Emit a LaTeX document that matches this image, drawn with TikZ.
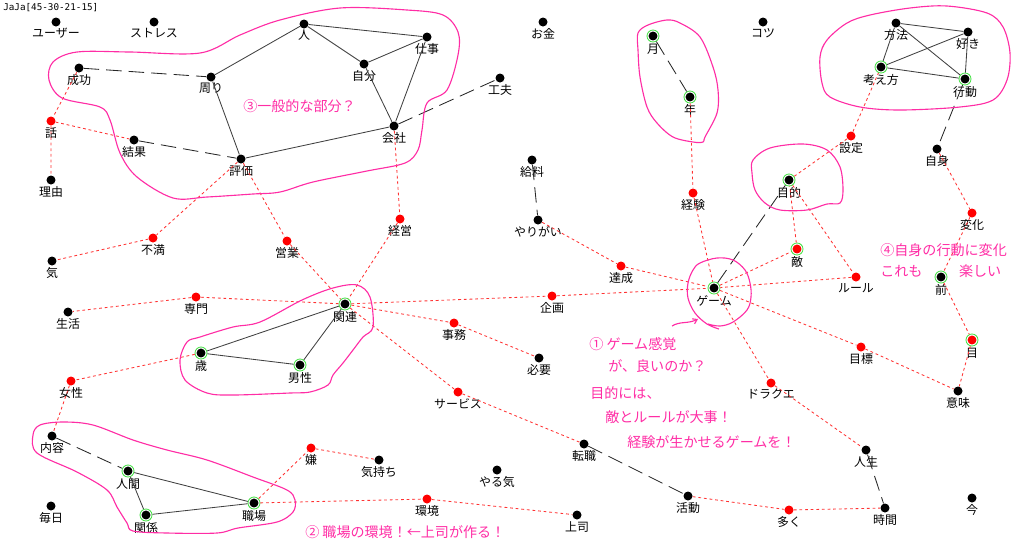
\documentclass[tikz,border=0pt]{standalone}
\usepackage{fontspec}
\setmainfont{Noto Sans CJK JP}
\newfontfamily\ttlfont{DejaVu Sans Mono}
\usetikzlibrary{arrows.meta}
\definecolor{pinkln}{RGB}{255,45,165}
\definecolor{dotred}{RGB}{255,0,0}
\definecolor{rdline}{RGB}{255,50,50}
\definecolor{ringgreen}{RGB}{70,225,70}
\tikzset{
  blk/.style={circle,fill=black,inner sep=0pt,minimum size=2.25mm},
  rd/.style={circle,fill=dotred,inner sep=0pt,minimum size=2.25mm},
  grn/.style={circle,inner sep=0pt,draw=ringgreen,fill=white,line width=0.6pt,minimum size=3mm,
    path picture={\fill[#1] (path picture bounding box.center) circle (1.12mm);}},
  grn/.default=black,
  lbl/.style={font=\fontsize{8.5}{9}\selectfont,inner sep=0.8pt},
  solidln/.style={black!75,line width=0.6pt},
  dashln/.style={black!85,line width=0.6pt,dash pattern=on 11pt off 5pt},
  rdln/.style={rdline,line width=0.6pt,dash pattern=on 2pt off 2pt},
  blob/.style={pinkln,line width=0.8pt},
  memo/.style={pinkln,font=\fontsize{10}{11}\selectfont,anchor=west,inner sep=0pt},
}
\begin{document}
\begin{tikzpicture}[x=0.025cm,y=-0.025cm]
		%%%%% START %%%%%
		\useasboundingbox (0,0) rectangle (1024,549);
		
		\node[anchor=west,inner sep=0pt,font=\ttlfont\fontsize{6.6}{7}\selectfont] (title) at (3,8) {JaJa[45-30-21-15]};
		
		% words, top rows
		\node[blk,label={[lbl]below:ユーザー}] (user) at (56,22) {};
		\node[blk,label={[lbl]below:ストレス}] (stress) at (154,22) {};
		\node[blk,label={[lbl]below:成功}] (seikou) at (79,68) {};
		\node[blk,label={[lbl]below:周り}] (mawari) at (211,77) {};
		\node[blk,label={[lbl]below:人}] (hito) at (304,24) {};
		\node[blk,label={[lbl]below:仕事}] (shigoto) at (427,37) {};
		\node[blk,label={[lbl]below:自分}] (jibun) at (364,64) {};
		\node[blk,label={[lbl]below:工夫}] (kufuu) at (500,78) {};
		\node[blk,label={[lbl]below:会社}] (kaisha) at (394,126) {};
		\node[rd,label={[lbl]below:話}] (hanashi) at (51,121) {};
		\node[blk,label={[lbl]below:結果}] (kekka) at (134,140) {};
		\node[blk,label={[lbl]below:評価}] (hyouka) at (241,159) {};
		\node[blk,label={[lbl]below:理由}] (riyuu) at (51,180) {};
		\node[blk,label={[lbl]below:お金}] (okane) at (543,22) {};
		\node[grn,label={[lbl]below:月}] (tsuki) at (653,36) {};
		\node[grn,label={[lbl]below:年}] (toshi) at (690,97) {};
		\node[blk,label={[lbl]below:コツ}] (kotsu) at (763,22) {};
		\node[blk,label={[lbl]below:方法}] (houhou) at (896,23) {};
		\node[blk,label={[lbl]below:好き}] (suki) at (968,32) {};
		\node[grn,label={[lbl]below:考え方}] (kangae) at (881,67) {};
		\node[grn,label={[lbl]below:行動}] (koudou) at (965,79) {};
		\node[rd,label={[lbl]below:設定}] (settei) at (851,136) {};
		\node[blk,label={[lbl]below:自身}] (jishin) at (937,149) {};
		
		% words, middle
		\node[grn,label={[lbl]below:目的}] (mokuteki) at (789,180) {};
		\node[blk,label={[lbl]below:給料}] (kyuuryou) at (532,160) {};
		\node[blk,label={[lbl]below:やりがい}] (yarigai) at (538,220) {};
		\node[rd,label={[lbl]below:経験}] (keiken) at (693,193) {};
		\node[rd,label={[lbl]below:変化}] (henka) at (972,213) {};
		\node[rd,label={[lbl]below:不満}] (fuman) at (153,238) {};
		\node[blk,label={[lbl]below:気}] (ki) at (52,261) {};
		\node[rd,label={[lbl]below:営業}] (eigyou) at (287,241) {};
		\node[rd,label={[lbl]below:経営}] (keiei) at (400,219) {};
		\node[grn=dotred,label={[lbl]below:敵}] (teki) at (797,249) {};
		\node[rd,label={[lbl]below:ルール}] (rule) at (856,277) {};
		\node[rd,label={[lbl]below:達成}] (tassei) at (621,266) {};
		\node[grn,label={[lbl]below:ゲーム}] (game) at (714,288) {};
		\node[grn,label={[lbl]below:前}] (mae) at (941,277) {};
		\node[blk,label={[lbl]below:生活}] (seikatsu) at (68,312) {};
		\node[rd,label={[lbl]below:専門}] (senmon) at (196,297) {};
		\node[grn,label={[lbl]below:関連}] (kanren) at (345,304) {};
		\node[rd,label={[lbl]below:企画}] (kikaku) at (552,296) {};
		\node[rd,label={[lbl]below:事務}] (jimu) at (454,323) {};
		\node[grn=dotred,label={[lbl]below:目}] (me) at (972,340) {};
		\node[rd,label={[lbl]below:目標}] (mokuhyou) at (861,347) {};
		\node[grn,label={[lbl]below:歳}] (sai) at (201,353) {};
		\node[grn,label={[lbl]below:男性}] (dansei) at (300,365) {};
		\node[blk,label={[lbl]below:必要}] (hitsuyou) at (539,358) {};
		
		% words, bottom rows
		\node[rd,label={[lbl]below:女性}] (josei) at (71,381) {};
		\node[rd,label={[lbl]below:ドラクエ}] (dq) at (771,383) {};
		\node[rd,label={[lbl]below:サービス}] (service) at (458,392) {};
		\node[blk,label={[lbl]below:意味}] (imi) at (958,391) {};
		\node[blk,label={[lbl]below:内容}] (naiyou) at (52,436) {};
		\node[rd,label={[lbl]below:嫌}] (iya) at (311,448) {};
		\node[blk,label={[lbl]below:気持ち}] (kimochi) at (379,460) {};
		\node[grn,label={[lbl]below:人間}] (ningen) at (128,471) {};
		\node[blk,label={[lbl]below:転職}] (tenshoku) at (584,444) {};
		\node[blk,label={[lbl]below:やる気}] (yaruki) at (497,470) {};
		\node[blk,label={[lbl]below:人生}] (jinsei) at (866,450) {};
		\node[grn,label={[lbl]below:関係}] (kankei) at (146,515) {};
		\node[grn,label={[lbl]below:職場}] (shokuba) at (254,503) {};
		\node[rd,label={[lbl]below:環境}] (kankyou) at (427,499) {};
		\node[blk,label={[lbl]below:上司}] (joushi) at (577,515) {};
		\node[blk,label={[lbl]below:活動}] (katsudou) at (688,496) {};
		\node[rd,label={[lbl]below:多く}] (ooku) at (789,510) {};
		\node[blk,label={[lbl]below:時間}] (jikan) at (885,508) {};
		\node[blk,label={[lbl]below:今}] (ima) at (972,498) {};
		\node[blk,label={[lbl]below:毎日}] (mainichi) at (51,506) {};
		
		% solid links
		\draw[solidln] (mawari) -- (hito) -- (shigoto);
		\draw[solidln] (hito) -- (jibun) -- (shigoto) -- (kaisha) -- (jibun);
		\draw[solidln] (mawari) -- (hyouka) -- (kaisha);
		\draw[solidln] (houhou) -- (suki) -- (koudou) -- (kangae) -- (houhou) -- (koudou);
		\draw[solidln] (kangae) -- (suki);
		\draw[solidln] (sai) -- (kanren) -- (dansei) -- (sai);
		\draw[solidln] (ningen) -- (shokuba) -- (kankei) -- (ningen);
		
		% dashed links
		\draw[dashln] (seikou) -- (mawari);
		\draw[dashln] (kekka) -- (hyouka);
		\draw[dashln] (kaisha) -- (kufuu);
		\draw[dashln] (tsuki) -- (toshi);
		\draw[dashln] (kyuuryou) -- (yarigai);
		\draw[dashln] (game) -- (mokuteki);
		\draw[dashln] (koudou) -- (jishin);
		\draw[dashln] (naiyou) -- (ningen);
		\draw[dashln] (tenshoku) -- (katsudou);
		\draw[dashln] (jinsei) -- (jikan);
		
		% red dotted links
		\draw[rdln] (seikou) -- (hanashi) -- (riyuu);
		\draw[rdln] (hanashi) -- (kekka);
		\draw[rdln] (hyouka) -- (fuman) -- (ki);
		\draw[rdln] (hyouka) -- (eigyou) -- (kanren);
		\draw[rdln] (kaisha) -- (keiei) -- (kanren);
		\draw[rdln] (kanren) -- (senmon) -- (seikatsu);
		\draw[rdln] (kanren) -- (kikaku) -- (game);
		\draw[rdln] (kanren) -- (jimu) -- (hitsuyou);
		\draw[rdln] (kanren) -- (service) -- (tenshoku);
		\draw[rdln] (sai) -- (josei) -- (naiyou);
		\draw[rdln] (shokuba) -- (iya) -- (kimochi);
		\draw[rdln] (shokuba) -- (kankyou) -- (joushi);
		\draw[rdln] (katsudou) -- (ooku) -- (jikan);
		\draw[rdln] (toshi) -- (keiken) -- (game);
		\draw[rdln] (yarigai) -- (tassei) -- (game);
		\draw[rdln] (game) -- (teki) -- (mokuteki) -- (rule) -- (game);
		\draw[rdln] (game) -- (mokuhyou) -- (imi);
		\draw[rdln] (game) -- (dq) -- (jinsei);
		\draw[rdln] (mokuteki) -- (settei) -- (kangae);
		\draw[rdln] (jishin) -- (henka) -- (mae) -- (me) -- (imi);
		
		% pink outlines
		\draw[blob] plot[smooth cycle,tension=0.55] coordinates {(53,62) (77,52) (130,52) (200,53) (240,35) (280,20) (340,8) (407,10) (443,15) (458,32) (458,55) (447,90) (427,103) (422,130) (418,150) (405,163) (367,171) (313,182) (280,192) (253,194) (207,197) (173,198) (137,177) (120,153) (110,120) (100,107) (62,98) (49,80)};
		\draw[blob] plot[smooth cycle,tension=0.55] coordinates {(638,33) (648,25) (667,20) (680,23) (700,37) (713,67) (718,90) (717,113) (705,137) (703,142) (693,142) (673,137) (657,123) (647,107) (640,77) (638,50)};
		\draw[blob] plot[smooth cycle,tension=0.55] coordinates {(753,160) (770,148) (803,144) (827,150) (840,167) (843,190) (840,203) (827,204) (807,210) (780,210) (765,203) (755,190) (752,173)};
		\draw[blob] plot[smooth cycle,tension=0.55] coordinates {(820,57) (827,40) (847,23) (870,15) (910,8) (947,6) (987,13) (1003,27) (1010,53) (1007,80) (993,100) (960,107) (900,110) (860,107) (830,97) (822,83)};
		\draw[blob] plot[smooth,tension=0.6] coordinates {(719,329) (707,324) (695,313) (688,298) (688,283) (693,270) (700,263) (717,258) (733,260) (745,270) (750,283) (751,297) (747,310) (733,322) (720,326) (708,324)};
		\draw[blob,-{Straight Barb[length=3pt,width=4pt]}] (672,326) .. controls (680,321) and (688,324) .. (698,319);
		\draw[blob] plot[smooth cycle,tension=0.55] coordinates {(187,342) (200,337) (233,327) (260,322) (302,300) (333,288) (357,285) (370,297) (373,327) (363,337) (353,350) (343,363) (333,375) (328,385) (310,392) (290,393) (233,395) (207,393) (185,380) (180,360)};
		\draw[blob] plot[smooth cycle,tension=0.55] coordinates {(33,435) (40,425) (63,422) (93,425) (133,440) (167,450) (207,460) (253,477) (287,490) (295,500) (293,512) (277,522) (238,528) (217,533) (167,533) (133,531) (127,523) (117,507) (107,490) (77,472) (37,453)};
		
		% notes
		\node[memo] (note3) at (243,106) {③一般的な部分？};
		\node[memo] (note1a) at (589,344) {① ゲーム感覚};
		\node[memo] (note1b) at (608,366) {が、良いのか？};
		\node[memo] (note1c) at (590,393) {目的には、};
		\node[memo] (note1d) at (605,417) {敵とルールが大事！};
		\node[memo] (note1e) at (627,442) {経験が生かせるゲームを！};
		\node[memo] (note4a) at (880,250) {④自身の行動に変化};
		\node[memo] (note4b) at (880,271) {これも\hspace{2.6em}楽しい};
		\node[memo] (note2) at (305,532) {② 職場の環境！←上司が作る！};
		
		%%%%% END %%%%%
	\end{tikzpicture}
\end{document}
